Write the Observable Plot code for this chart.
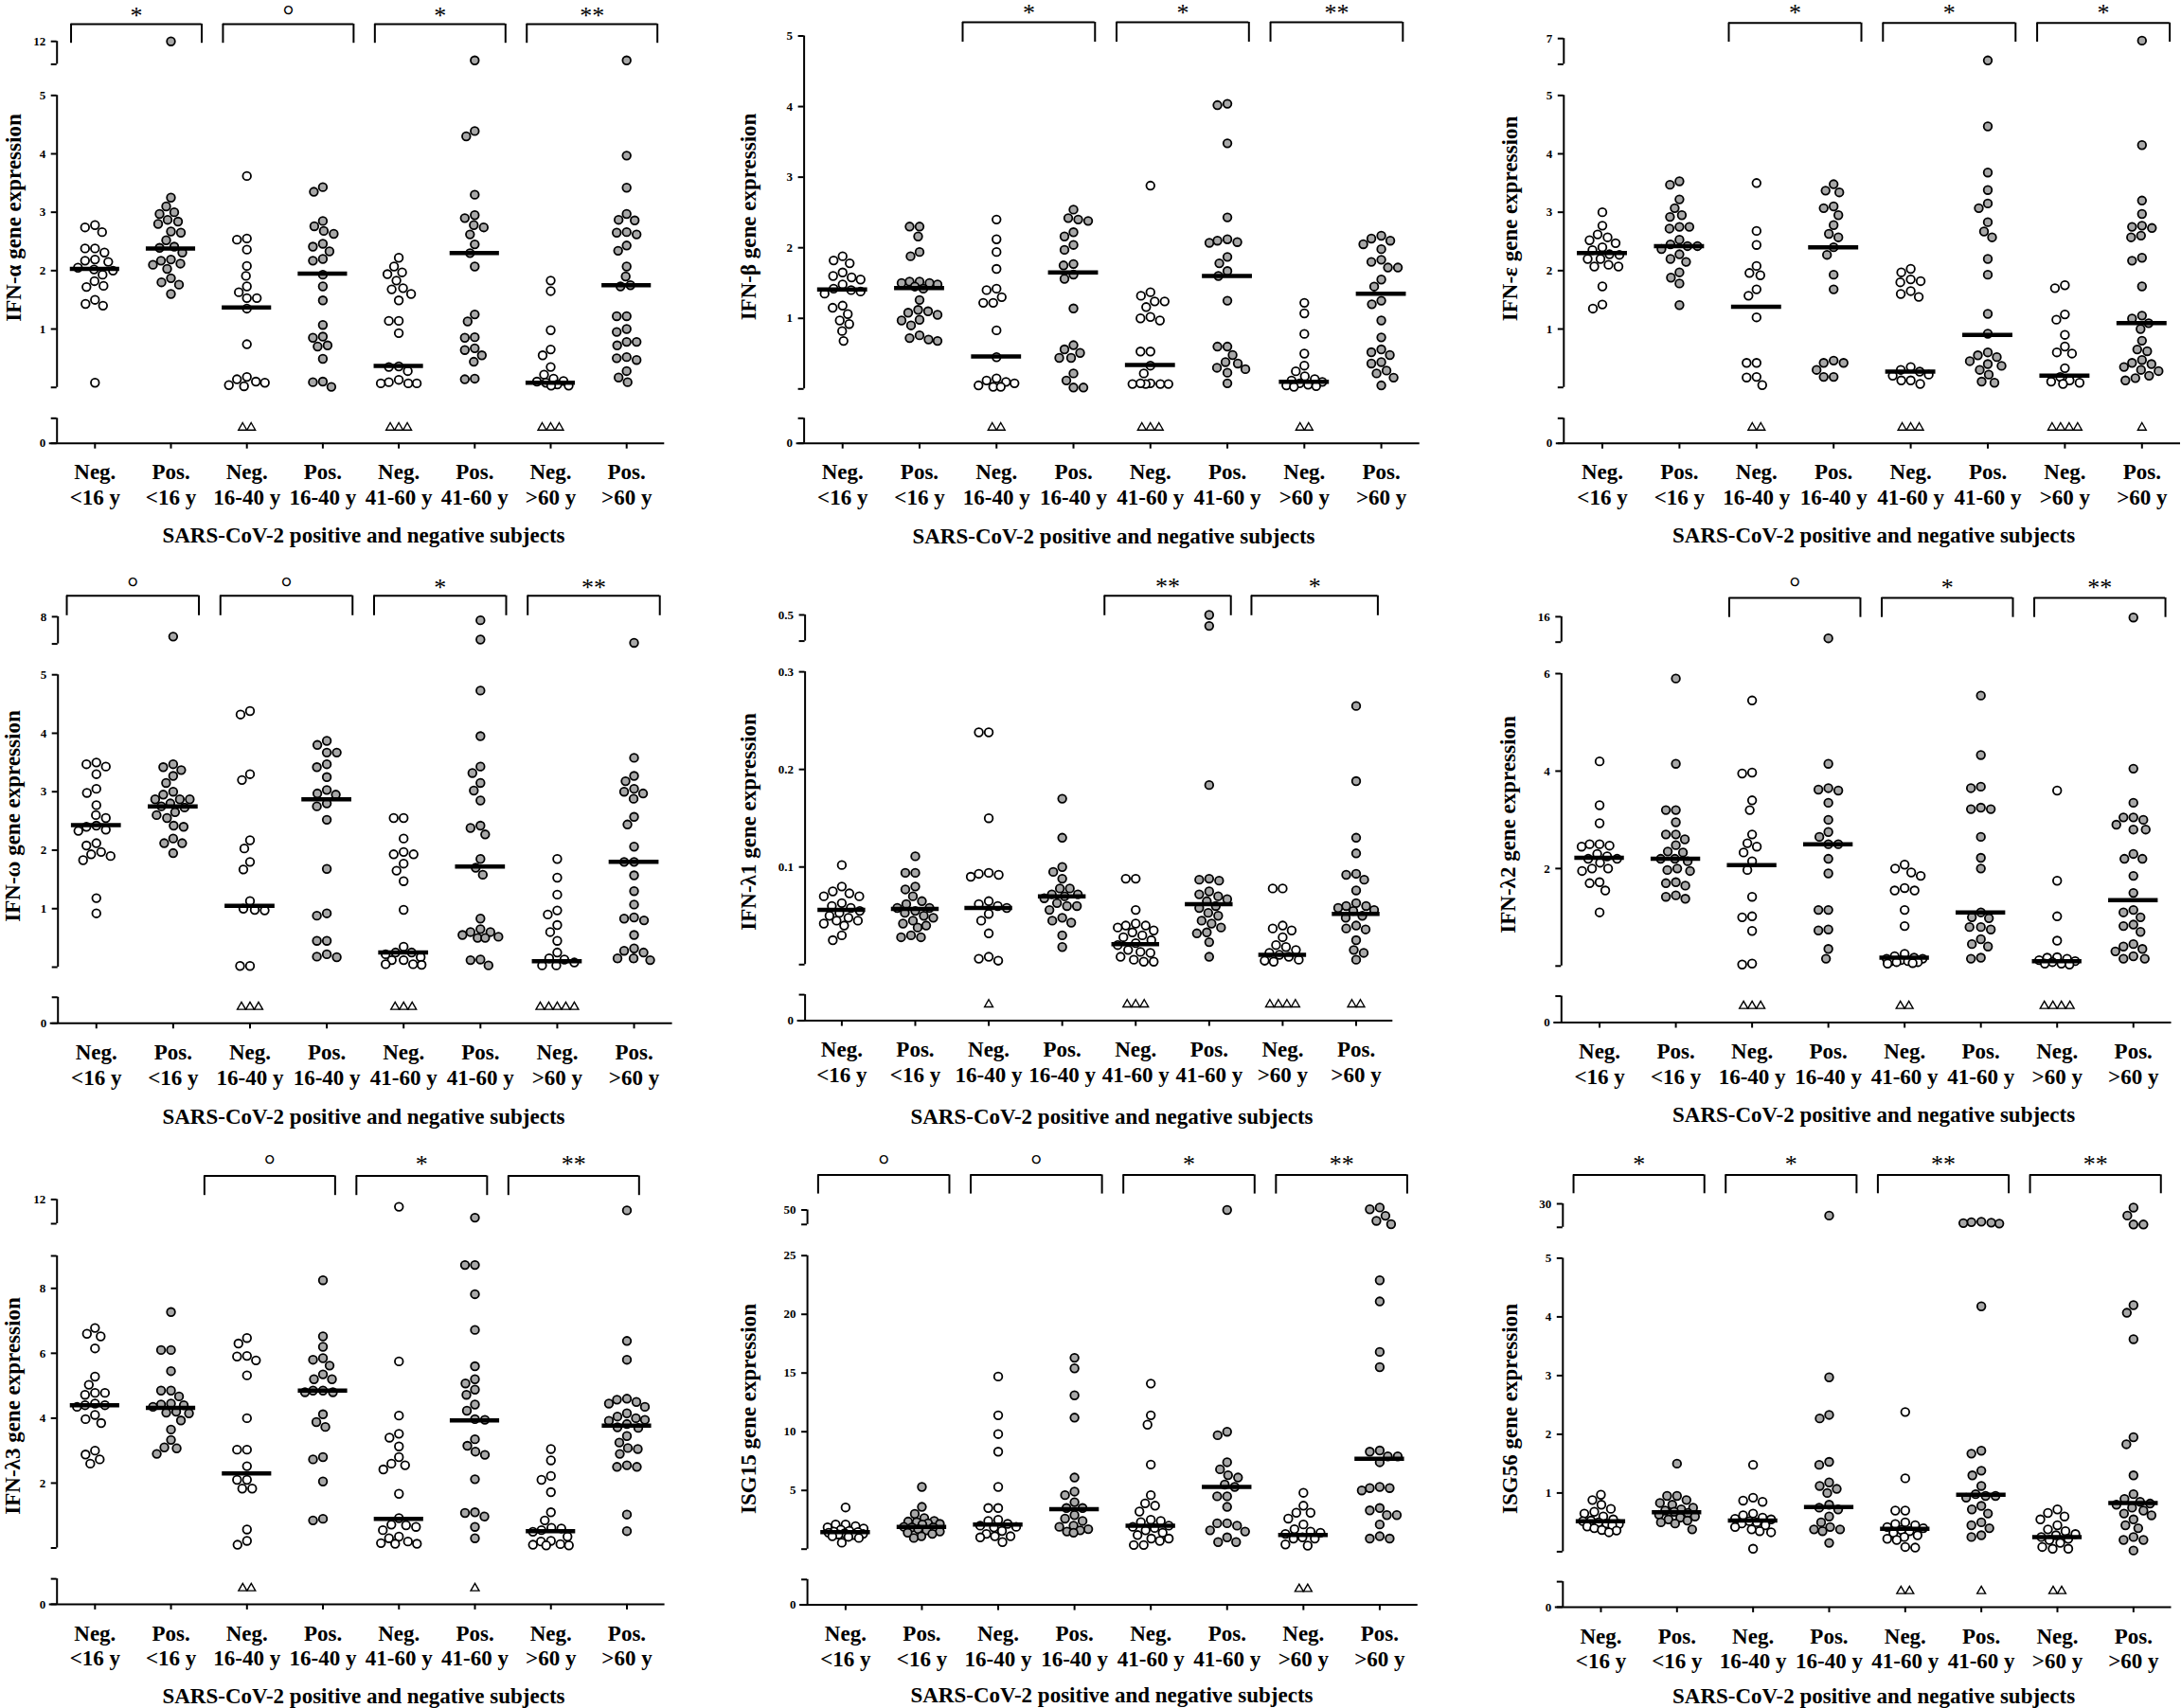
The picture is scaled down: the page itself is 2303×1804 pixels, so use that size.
<!DOCTYPE html>
<html><head><meta charset="utf-8">
<script src="https://cdn.jsdelivr.net/npm/d3@7"></script>
<script src="https://cdn.jsdelivr.net/npm/@observablehq/plot@0.6"></script>
<style>
body{margin:0;background:#fff}
#fig{position:relative;width:2303px;height:1804px;background:#fff;font-family:"Liberation Serif","Times New Roman",serif;color:#000;overflow:hidden}
.panel{position:absolute;height:600px}
.panel svg{position:absolute;left:0;top:0}
.ytitle,.xtitle{position:absolute;font-weight:bold;font-size:23px;white-space:nowrap;line-height:1}
.ytitle{transform:translate(-50%,-50%) rotate(-90deg)}
.xtitle{transform:translate(-50%,-50%)}
</style></head>
<body><div id="fig"></div>
<script>
const groups = ["Neg.\n<16 y","Pos.\n<16 y","Neg.\n16-40 y","Pos.\n16-40 y","Neg.\n41-60 y","Pos.\n41-60 y","Neg.\n>60 y","Pos.\n>60 y"];
const xTitleText = "SARS-CoV-2 positive and negative subjects";
const ND = -0.53; // placeholder level for undetectable samples (lower axis segment)

// ---------- IFN-α ----------
const alphaValues = [
 [2.78,2.74,2.66,2.38,2.38,2.31,2.19,2.17,2.15,2.05,2.02,2.0,1.93,1.82,1.74,1.72,1.5,1.43,1.4,0.08],
 [12,3.25,3.1,3.0,2.97,2.87,2.84,2.8,2.67,2.65,2.52,2.41,2.39,2.31,2.19,2.17,2.12,2.1,2.03,1.87,1.8,1.76,1.6],
 [3.62,2.55,2.53,2.36,2.08,1.91,1.73,1.63,1.53,1.53,1.35,0.74,0.18,0.14,0.1,0.08,0.04,0.02],
 [3.43,3.35,2.85,2.76,2.68,2.63,2.46,2.41,2.33,2.2,2.17,1.93,1.73,1.49,1.07,0.87,0.85,0.72,0.7,0.49,0.1,0.09,0.01],
 [2.22,2.07,1.97,1.94,1.83,1.7,1.68,1.6,1.49,1.14,1.14,0.93,0.36,0.35,0.28,0.13,0.09,0.07,0.07,0.07],
 [11.17,4.39,4.3,3.3,2.95,2.9,2.78,2.74,2.62,2.45,2.3,2.07,1.25,1.13,0.86,0.85,0.67,0.64,0.55,0.44,0.15,0.14],
 [1.83,1.65,0.98,0.65,0.55,0.35,0.22,0.15,0.11,0.1,0.08,0.05,0.03,0.03],
 [11.17,3.97,3.42,2.97,2.87,2.86,2.66,2.65,2.62,2.43,2.34,2.07,1.9,1.75,1.73,1.22,1.22,1.0,0.95,0.78,0.78,0.72,0.52,0.5,0.47,0.28,0.17,0.09]
];
const alphaMedians = [2.03,2.38,1.37,1.95,0.37,2.3,0.08,1.75];
const alphaUndetected = [0,0,2,0,3,0,3,0];
const alphaSignif = ["*","°","*","**"];
const alphaTicks = [1,2,3,4,5,12];

// ---------- IFN-β ----------
const betaValues = [
 [1.88,1.82,1.78,1.65,1.6,1.58,1.55,1.48,1.42,1.4,1.38,1.35,1.18,1.15,1.06,0.97,0.92,0.82,0.68],
 [2.3,2.3,2.16,1.94,1.88,1.52,1.52,1.5,1.5,1.48,1.45,1.42,1.26,1.12,1.1,1.08,1.05,0.98,0.97,0.9,0.76,0.72,0.7,0.68],
 [2.4,2.12,1.94,1.7,1.42,1.4,1.3,1.22,1.22,0.83,0.45,0.15,0.12,0.1,0.08,0.05,0.03,0.03],
 [2.54,2.42,2.4,2.38,2.22,2.16,2.04,1.97,1.77,1.75,1.62,1.56,1.14,0.62,0.56,0.51,0.44,0.44,0.22,0.12,0.02,0.02],
 [2.88,1.37,1.32,1.24,1.24,1.16,1.02,1.0,0.97,0.53,0.53,0.33,0.22,0.08,0.07,0.07,0.07,0.07,0.08],
 [4.04,4.02,3.48,2.43,2.12,2.1,2.08,2.07,1.87,1.78,1.67,1.6,1.25,0.6,0.6,0.48,0.38,0.36,0.3,0.28,0.23,0.08],
 [1.22,1.07,0.78,0.5,0.33,0.25,0.18,0.14,0.12,0.1,0.08,0.06,0.05,0.04,0.03],
 [2.17,2.13,2.1,2.05,1.98,1.83,1.8,1.72,1.72,1.55,1.45,1.25,1.2,0.97,0.73,0.56,0.52,0.48,0.38,0.36,0.26,0.22,0.16,0.05]
];
const betaMedians = [1.41,1.43,0.46,1.65,0.34,1.6,0.1,1.35];
const betaUndetected = [0,0,2,0,3,0,2,0];
const betaSignif = [null,"*","*","**"];
const betaTicks = [1,2,3,4,5];

// ---------- IFN-ε ----------
const epsValues = [
 [3.0,2.77,2.62,2.57,2.52,2.47,2.4,2.35,2.28,2.27,2.2,2.2,2.1,2.07,2.07,1.73,1.42,1.35],
 [3.53,3.47,3.22,3.07,2.95,2.92,2.75,2.75,2.72,2.53,2.45,2.42,2.42,2.37,2.28,2.2,2.15,1.97,1.88,1.78,1.41],
 [3.5,2.68,2.44,2.08,1.96,1.92,1.68,1.57,1.2,0.42,0.42,0.18,0.17,0.04],
 [3.48,3.37,3.34,3.1,3.07,2.95,2.78,2.63,2.57,2.4,2.27,1.93,1.68,0.46,0.42,0.42,0.3,0.18,0.18],
 [2.03,1.97,1.85,1.82,1.8,1.65,1.6,1.55,0.35,0.3,0.27,0.22,0.2,0.12,0.12,0.06],
 [6.15,4.47,3.68,3.38,3.15,3.07,2.83,2.67,2.57,2.2,1.93,1.26,0.92,0.6,0.55,0.52,0.45,0.4,0.37,0.3,0.22,0.1,0.08],
 [1.75,1.7,1.25,1.16,0.9,0.7,0.6,0.58,0.33,0.18,0.12,0.1,0.08,0.06],
 [6.92,4.15,3.2,2.97,2.77,2.75,2.73,2.6,2.57,2.22,2.17,1.73,1.23,1.18,1.1,1.0,0.8,0.65,0.62,0.47,0.42,0.4,0.35,0.3,0.28,0.2,0.16,0.12]
];
const epsMedians = [2.3,2.42,1.38,2.4,0.27,0.9,0.2,1.1];
const epsUndetected = [0,0,2,0,3,0,4,1];
const epsSignif = [null,"*","*","*"];
const epsTicks = [1,2,3,4,5,7];

// ---------- IFN-ω ----------
const omegaValues = [
 [3.5,3.47,3.43,3.3,3.05,2.98,2.77,2.6,2.55,2.42,2.4,2.35,2.33,2.12,2.08,1.97,1.93,1.9,1.83,1.18,0.92],
 [7.27,3.47,3.42,3.37,3.27,3.15,3.0,2.95,2.87,2.87,2.87,2.8,2.75,2.73,2.65,2.6,2.55,2.42,2.4,2.2,2.12,2.12,1.95],
 [4.38,4.32,3.3,3.2,2.17,2.03,1.8,1.67,1.13,1.0,0.98,0.97,0.02,0.02],
 [3.87,3.8,3.67,3.67,3.47,3.42,3.25,3.03,2.97,2.95,2.8,2.75,2.52,1.68,0.92,0.88,0.45,0.45,0.22,0.18,0.17],
 [2.55,2.55,2.2,1.97,1.93,1.93,1.77,1.65,1.47,0.98,0.35,0.25,0.25,0.22,0.17,0.12,0.12,0.05,0.05,0.04],
 [7.87,7.16,4.73,3.95,3.43,3.32,3.15,3.02,2.85,2.42,2.38,2.27,1.85,1.7,1.58,0.83,0.65,0.6,0.6,0.55,0.52,0.5,0.5,0.13,0.12,0.03],
 [1.85,1.53,1.24,0.97,0.9,0.72,0.6,0.45,0.25,0.15,0.13,0.08,0.03,0.03],
 [7.04,3.58,3.27,3.18,3.05,3.0,2.97,2.88,2.57,2.44,2.06,1.8,1.8,1.57,1.3,1.07,0.85,0.83,0.8,0.55,0.32,0.28,0.25,0.15,0.15,0.12]
];
const omegaMedians = [2.43,2.75,1.05,2.87,0.25,1.72,0.1,1.8];
const omegaUndetected = [0,0,3,0,3,0,5,0];
const omegaSignif = ["°","°","*","**"];
const omegaTicks = [1,2,3,4,5,8];

// ---------- IFN-λ1 ----------
const l1Values = [
 [0.102,0.08,0.075,0.073,0.07,0.07,0.063,0.06,0.058,0.055,0.053,0.05,0.048,0.045,0.045,0.042,0.04,0.03,0.025],
 [0.111,0.094,0.094,0.08,0.077,0.07,0.065,0.062,0.058,0.058,0.055,0.053,0.05,0.048,0.045,0.042,0.04,0.038,0.03,0.028,0.028],
 [0.238,0.238,0.15,0.094,0.093,0.092,0.09,0.065,0.062,0.06,0.058,0.052,0.045,0.032,0.008,0.006,0.004],
 [0.17,0.13,0.1,0.095,0.088,0.078,0.078,0.072,0.072,0.07,0.068,0.063,0.06,0.06,0.056,0.048,0.045,0.043,0.03,0.018],
 [0.088,0.088,0.056,0.042,0.04,0.04,0.038,0.035,0.033,0.03,0.028,0.025,0.022,0.02,0.015,0.013,0.012,0.008,0.005,0.003,0.003],
 [0.5,0.458,0.184,0.088,0.087,0.086,0.075,0.072,0.07,0.067,0.065,0.06,0.058,0.053,0.05,0.045,0.042,0.038,0.033,0.032,0.023,0.008],
 [0.078,0.078,0.04,0.037,0.035,0.028,0.02,0.018,0.015,0.012,0.01,0.008,0.005,0.004,0.003],
 [0.265,0.188,0.13,0.114,0.093,0.092,0.087,0.076,0.063,0.06,0.06,0.058,0.056,0.055,0.05,0.048,0.04,0.037,0.036,0.025,0.015,0.012,0.005]
];
const l1Medians = [0.056,0.057,0.058,0.07,0.021,0.062,0.01,0.052];
const l1Undetected = [0,0,1,0,3,0,4,2];
const l1Signif = [null,null,"**","*"];
const l1Ticks = [0.1,0.2,0.3,0.5];

// ---------- IFN-λ2 ----------
const l2Values = [
 [4.2,3.3,2.93,2.5,2.5,2.47,2.45,2.3,2.25,2.2,2.2,2.12,2.0,2.0,1.95,1.72,1.7,1.55,1.1],
 [5.9,4.15,3.2,3.2,2.95,2.7,2.7,2.6,2.48,2.35,2.33,2.2,2.2,2.15,2.0,1.97,1.95,1.72,1.7,1.65,1.45,1.42,1.38],
 [5.45,3.97,3.95,3.4,3.2,2.7,2.52,2.45,2.33,2.15,1.97,1.42,1.02,1.0,0.72,0.05,0.03],
 [14.3,4.15,3.65,3.62,3.6,3.35,3.0,2.75,2.65,2.5,2.5,2.2,1.9,1.15,1.15,0.75,0.73,0.35,0.15],
 [2.08,2.0,1.92,1.85,1.6,1.55,1.55,1.15,0.82,0.25,0.2,0.17,0.15,0.15,0.12,0.1,0.1,0.08,0.08,0.06,0.05],
 [5.55,4.33,3.68,3.65,3.25,3.22,3.22,2.65,2.22,2.0,1.1,1.0,0.98,0.8,0.8,0.75,0.55,0.45,0.4,0.17,0.15],
 [3.6,1.75,1.02,0.52,0.18,0.17,0.15,0.12,0.1,0.08,0.05,0.05,0.03],
 [15.94,4.05,3.35,3.05,3.05,3.0,2.9,2.8,2.8,2.3,2.2,2.2,1.85,1.5,1.15,1.1,1.0,0.85,0.82,0.7,0.45,0.4,0.35,0.3,0.2,0.15,0.15]
];
const l2Medians = [2.22,2.2,2.07,2.5,0.17,1.1,0.1,1.35];
const l2Undetected = [0,0,3,0,2,0,4,0];
const l2Signif = [null,"°","*","**"];
const l2Ticks = [2,4,6,16];

// ---------- IFN-λ3 ----------
const l3Values = [
 [6.78,6.6,6.52,6.15,5.28,5.03,4.78,4.78,4.72,4.45,4.4,4.4,4.35,4.1,3.97,3.85,3.0,2.88,2.73,2.6],
 [7.27,6.1,6.1,5.45,4.85,4.85,4.67,4.45,4.42,4.4,4.35,4.2,4.17,4.15,3.93,3.65,3.33,3.1,3.07,2.9],
 [6.47,6.3,5.92,5.9,5.78,5.32,4.0,3.03,3.03,2.52,2.1,2.1,1.83,1.83,0.57,0.22,0.1],
 [8.25,6.52,6.2,5.85,5.8,5.62,5.35,5.2,5.2,4.85,4.85,4.8,4.8,4.12,3.88,3.73,2.8,2.73,2.05,0.9,0.85],
 [11.7,5.75,4.08,3.52,3.4,3.13,2.8,2.6,2.55,2.42,1.67,0.92,0.72,0.7,0.65,0.55,0.35,0.3,0.2,0.15,0.13,0.13],
 [11.25,8.72,8.72,7.82,6.72,5.6,5.2,5.07,4.88,4.72,4.42,4.23,3.97,3.95,3.35,3.15,2.97,2.87,2.12,1.1,1.08,0.97,0.65,0.3],
 [3.05,2.7,2.22,2.1,1.72,1.1,0.85,0.62,0.6,0.55,0.5,0.35,0.22,0.2,0.12,0.1,0.08,0.08],
 [11.55,6.38,5.8,4.6,4.57,4.5,4.45,4.35,4.15,4.05,4.0,3.95,3.92,3.82,3.72,3.7,3.45,3.25,3.08,3.05,2.9,2.55,2.5,2.5,1.03,0.52]
];
const l3Medians = [4.4,4.32,2.3,4.85,0.9,3.93,0.52,3.77];
const l3Undetected = [0,0,2,0,0,1,0,0];
const l3Signif = [null,"°","*","**"];
const l3Ticks = [2,4,6,8,12];

// ---------- ISG15 ----------
const isg15Values = [
 [3.55,2.1,2.1,1.95,1.85,1.75,1.65,1.55,1.5,1.45,1.4,1.35,1.3,1.25,1.2,1.1,1.05,0.95,0.55],
 [5.3,3.6,3.0,2.65,2.4,2.35,2.3,2.2,2.15,2.1,1.9,1.85,1.85,1.7,1.6,1.5,1.4,1.3,1.1,0.95],
 [14.7,11.4,9.8,8.3,5.3,3.5,3.5,2.5,2.4,2.15,2.0,1.9,1.85,1.55,1.3,1.1,1.1,1.0,0.6],
 [16.3,15.4,13.1,11.2,6.1,4.9,4.6,4.0,3.5,3.5,2.9,2.6,2.4,2.0,1.9,1.7,1.6,1.5,1.4],
 [14.1,11.4,10.6,7.2,4.6,3.9,3.7,3.2,2.5,2.4,2.3,2.0,1.9,1.8,1.6,1.4,1.2,0.9,0.9,0.7,0.35,0.35],
 [50,10.0,9.7,7.4,6.8,6.3,6.1,5.5,5.3,4.5,4.5,3.6,2.2,2.2,2.0,1.6,1.5,1.0,0.6,0.6],
 [4.8,3.7,3.1,3.1,2.6,2.1,1.7,1.5,1.4,1.3,1.0,0.9,0.9,0.4,0.3],
 [51.7,50.5,46,42.5,40.2,22.9,21.1,16.8,15.5,8.4,8.3,7.9,7.9,7.4,5.3,5.2,5.2,5.0,3.5,3.3,2.9,2.9,2.1,1.1,0.9,0.9]
];
const isg15Medians = [1.45,1.9,2.1,3.4,2.0,5.3,1.2,7.7];
const isg15Undetected = [0,0,0,0,0,0,2,0];
const isg15Signif = ["°","°","*","**"];
const isg15Ticks = [5,10,15,20,25,50];

// ---------- ISG56 ----------
const isg56Values = [
 [0.97,0.88,0.8,0.73,0.68,0.65,0.6,0.55,0.53,0.52,0.5,0.48,0.47,0.45,0.43,0.4,0.37,0.36,0.33],
 [1.5,0.95,0.95,0.88,0.83,0.8,0.75,0.72,0.7,0.68,0.66,0.63,0.6,0.58,0.55,0.53,0.5,0.48,0.38],
 [1.48,0.92,0.87,0.85,0.65,0.62,0.58,0.56,0.55,0.52,0.5,0.48,0.45,0.42,0.38,0.35,0.33,0.05],
 [27.5,2.97,2.33,2.27,1.53,1.48,1.18,1.12,1.07,1.0,0.8,0.75,0.72,0.6,0.5,0.42,0.38,0.38,0.35,0.15],
 [2.38,1.25,0.7,0.7,0.5,0.47,0.45,0.42,0.4,0.37,0.35,0.32,0.28,0.25,0.22,0.2,0.08,0.07],
 [26.2,26.1,26.0,25.9,25.8,4.18,1.72,1.67,1.38,1.3,1.12,0.98,0.95,0.95,0.92,0.78,0.72,0.65,0.5,0.45,0.4,0.28,0.25],
 [0.72,0.66,0.6,0.55,0.45,0.38,0.35,0.3,0.28,0.25,0.22,0.2,0.15,0.08,0.05,0.05],
 [29.2,27.5,25.6,25.6,4.2,4.07,3.62,1.95,1.83,1.3,0.98,0.9,0.85,0.82,0.8,0.75,0.7,0.65,0.62,0.55,0.45,0.4,0.25,0.2,0.2,0.02]
];
const isg56Medians = [0.52,0.67,0.53,0.76,0.39,0.97,0.25,0.83];
const isg56Undetected = [0,0,0,0,2,1,2,0];
const isg56Signif = ["*","*","**","**"];
const isg56Ticks = [1,2,3,4,5,30];

// ---------- panel definitions (scale breaks + layout) ----------
const panels = [
 {title:"IFN-α gene expression", values:alphaValues, medians:alphaMedians, nd:alphaUndetected, signif:alphaSignif, ticks:alphaTicks,
  low:[-1,-0.25], main:[0,5], top:[11,12],
  L:{left:0,top:0,width:780,axisX:59.7,axisEnd:701.3,range:[467.7,441.3,408.7,100.3,67.4,43.2],bracket:[45.2,24.9,16],shift:0.045,yT:[13.9,229.6],xT:[384,564.5]}},
 {title:"IFN-β gene expression", values:betaValues, medians:betaMedians, nd:betaUndetected, signif:betaSignif, ticks:betaTicks,
  low:[-1,-0.25], main:[0,5], top:null,
  L:{left:770,top:0,width:780,axisX:78.6,axisEnd:728.7,range:[467.7,441.3,410.3,37.5],bracket:[44,23,12.9],shift:-0.08,yT:[19.9,228.5],xT:[406,565.6]}},
 {title:"IFN-ε gene expression", values:epsValues, medians:epsMedians, nd:epsUndetected, signif:epsSignif, ticks:epsTicks,
  low:[-1,-0.25], main:[0,5], top:[6,7],
  L:{left:1530,top:0,width:773,axisX:120.8,axisEnd:772,range:[467.7,441.3,408.7,100.3,67.4,40.2],bracket:[44,23.7,12.9],shift:0,yT:[64,230.5],xT:[448.6,564.5]}},
 {title:"IFN-ω gene expression", values:omegaValues, medians:omegaMedians, nd:omegaUndetected, signif:omegaSignif, ticks:omegaTicks,
  low:[-1,-0.25], main:[0,5], top:[7,8],
  L:{left:0,top:605,width:780,axisX:60.7,axisEnd:709.6,range:[475.3,447.8,416,107.2,74.6,45.9],bracket:[44.8,23.7,15.2],shift:-0.025,yT:[13,257],xT:[384,574]}},
 {title:"IFN-λ1 gene expression", values:l1Values, medians:l1Medians, nd:l1Undetected, signif:l1Signif, ticks:l1Ticks,
  low:[-1,-0.25], main:[0,0.3], top:[0.4,0.5],
  L:{left:770,top:605,width:780,axisX:79.6,axisEnd:700.3,range:[472.6,445.1,413.3,104.1,71.6,44],bracket:[44.8,23.7,14.1],shift:-0.065,yT:[19.9,263],xT:[404,574]}},
 {title:"IFN-λ2 gene expression", values:l2Values, medians:l2Medians, nd:l2Undetected, signif:l2Signif, ticks:l2Ticks,
  low:[-1,-0.25], main:[0,6], top:[14,16],
  L:{left:1530,top:605,width:773,axisX:118.3,axisEnd:762.5,range:[474.5,446.6,414.8,106,72.7,45.9],bracket:[46.7,26,15.2],shift:0.06,yT:[62,266],xT:[448.6,572]}},
 {title:"IFN-λ3 gene expression", values:l3Values, medians:l3Medians, nd:l3Undetected, signif:l3Signif, ticks:l3Ticks,
  low:[-1,-0.25], main:[0,9], top:[11,12],
  L:{left:0,top:1204,width:780,axisX:59.7,axisEnd:701.6,range:[489.9,463.1,430.5,122,88,62.4],bracket:[58.2,37.5,25.5],shift:-0.2,yT:[13,281],xT:[384,587]}},
 {title:"ISG15 gene expression", values:isg15Values, medians:isg15Medians, nd:isg15Undetected, signif:isg15Signif, ticks:isg15Ticks,
  low:[-1,-0.25], main:[0,25], top:[40,50],
  L:{left:770,top:1204,width:780,axisX:82.1,axisEnd:726.7,range:[490.6,463.8,431.7,121.7,88.8,73.5],bracket:[56.6,36.4,25.5],shift:0,yT:[19.9,284],xT:[404,585.5]}},
 {title:"ISG56 gene expression", values:isg56Values, medians:isg56Medians, nd:isg56Undetected, signif:isg56Signif, ticks:isg56Ticks,
  low:[-1,-0.25], main:[0,5], top:[25,30],
  L:{left:1530,top:1204,width:773,axisX:119.8,axisEnd:762.5,range:[492.9,466.1,434.4,124.4,91.8,67],bracket:[56.3,36.4,25.5],shift:0,yT:[64,284],xT:[448.6,587]}}
];

// capped beeswarm layout in pixel space (points may overlap once the column is full)
function swarm(pys, D, maxHalf) {
  const order = d3.range(pys.length).sort((a, b) => pys[a] - pys[b]);
  const xs = new Array(pys.length);
  const placed = [];
  const grid = d3.range(-maxHalf, maxHalf + 0.001, 0.5);
  for (const i of order) {
    const y = pys[i];
    const near = placed.filter(p => Math.abs(p.y - y) < D);
    let best = null, bestScore = -Infinity;
    for (const c of grid) {
      let minD = Infinity;
      for (const p of near) minD = Math.min(minD, Math.hypot(p.x - c, p.y - y));
      const free = minD >= D;
      const score = free ? 1e6 - Math.abs(c) : minD - Math.abs(c) * 0.01;
      if (score > bestScore + 1e-9) { bestScore = score; best = c; }
    }
    xs[i] = best;
    placed.push({x: best, y});
  }
  return xs;
}

const fig = document.getElementById("fig");
const H = 600;
const baseStyle = {fontFamily: "'Liberation Serif','Times New Roman',serif", background: "transparent", overflow: "visible", color: "#000"};

for (const p of panels) {
  const L = p.L;
  const div = document.createElement("div");
  div.className = "panel";
  div.style.left = L.left + "px"; div.style.top = L.top + "px"; div.style.width = L.width + "px";
  fig.appendChild(div);

  const segs = [p.low, p.main, p.top].filter(Boolean);
  const domain = segs.flat();
  const yCfg = {type: "linear", domain, range: L.range};
  const yScale = Plot.scale({y: yCfg});
  const band = (L.axisEnd - L.axisX) / 8;

  const pts = [];
  p.values.forEach((vals, g) => {
    const xs = swarm(vals.map(v => yScale.apply(v)), 10.5, 19);
    vals.forEach((v, k) => pts.push({g, v, x: g + xs[k] / band}));
  });
  const tri = [];
  p.nd.forEach((n, g) => { for (let j = 0; j < n; j++) tri.push({x: g + (j - (n - 1) / 2) * 9 / band, v: ND}); });
  const meds = p.medians.map((v, g) => ({g, v}));

  const tickVals = Array.from(new Set([...domain, ...p.ticks])).sort((a, b) => a - b);
  const labelled = new Set(p.ticks);
  const fmt = t => t === p.low[0] ? "0" : (labelled.has(t) ? String(t) : "");

  const margins = {marginLeft: L.axisX, marginRight: L.width - L.axisEnd};

  const svg = Plot.plot({
    width: L.width, height: H, ...margins,
    marginTop: L.range[L.range.length - 1], marginBottom: H - L.range[0],
    x: {domain: [-0.5, 7.5]},
    y: yCfg,
    style: baseStyle,
    marks: [
      Plot.ruleX(segs, {x: -0.5, y1: d => d[0], y2: d => d[1], strokeWidth: 2}),
      Plot.ruleY([p.low[0]], {strokeWidth: 2, insetLeft: -8}),
      Plot.axisY({ticks: tickVals, tickFormat: fmt, tickSize: 6, tickPadding: 6, fontSize: 13, fontWeight: "bold", strokeWidth: 2, label: null}),
      Plot.axisX({ticks: d3.range(8), tickFormat: i => groups[i], tickSize: 6, tickPadding: 13, fontSize: 23, fontWeight: "bold", lineHeight: 1.17, strokeWidth: 2, label: null}),
      Plot.dot(pts.filter(d => d.g % 2 === 0), {x: "x", y: "v", r: 4.3, fill: "white", stroke: "black", strokeWidth: 1.8}),
      Plot.dot(pts.filter(d => d.g % 2 === 1), {x: "x", y: "v", r: 4.3, fill: "#a8a8a8", stroke: "black", strokeWidth: 1.8}),
      Plot.dot(tri, {x: "x", y: "v", symbol: "triangle", r: 3.3, fill: "none", stroke: "black", strokeWidth: 1.4}),
      Plot.ruleY(meds, {x1: d => d.g - 0.325, x2: d => d.g + 0.325, y: "v", strokeWidth: 4.5})
    ]
  });
  div.appendChild(svg);

  const br = p.signif.map((s, k) => s ? {s, a: 2 * k - 0.36 + L.shift, b: 2 * k + 1 + 0.36 + L.shift} : null).filter(Boolean);
  const legs = br.flatMap(d => [d.a, d.b]);
  const svg2 = Plot.plot({
    width: L.width, height: H, ...margins, marginTop: 0, marginBottom: 0,
    x: {domain: [-0.5, 7.5], axis: null},
    y: {type: "linear", domain: [0, 1, 2], range: L.bracket, axis: null},
    style: baseStyle,
    marks: [
      Plot.ruleY(br, {x1: "a", x2: "b", y: 1, strokeWidth: 2}),
      Plot.ruleX(legs, {x: d => d, y1: 0, y2: 1, strokeWidth: 2}),
      Plot.text(br, {x: d => (d.a + d.b) / 2, y: 2, text: "s", fontSize: d => d.s === "°" ? 30 : 26, lineAnchor: "middle"})
    ]
  });
  div.appendChild(svg2);

  const yt = document.createElement("div");
  yt.className = "ytitle"; yt.textContent = p.title;
  yt.style.left = L.yT[0] + "px"; yt.style.top = L.yT[1] + "px";
  div.appendChild(yt);
  const xt = document.createElement("div");
  xt.className = "xtitle"; xt.textContent = xTitleText;
  xt.style.left = L.xT[0] + "px"; xt.style.top = L.xT[1] + "px";
  div.appendChild(xt);
}
</script>
</body></html>
